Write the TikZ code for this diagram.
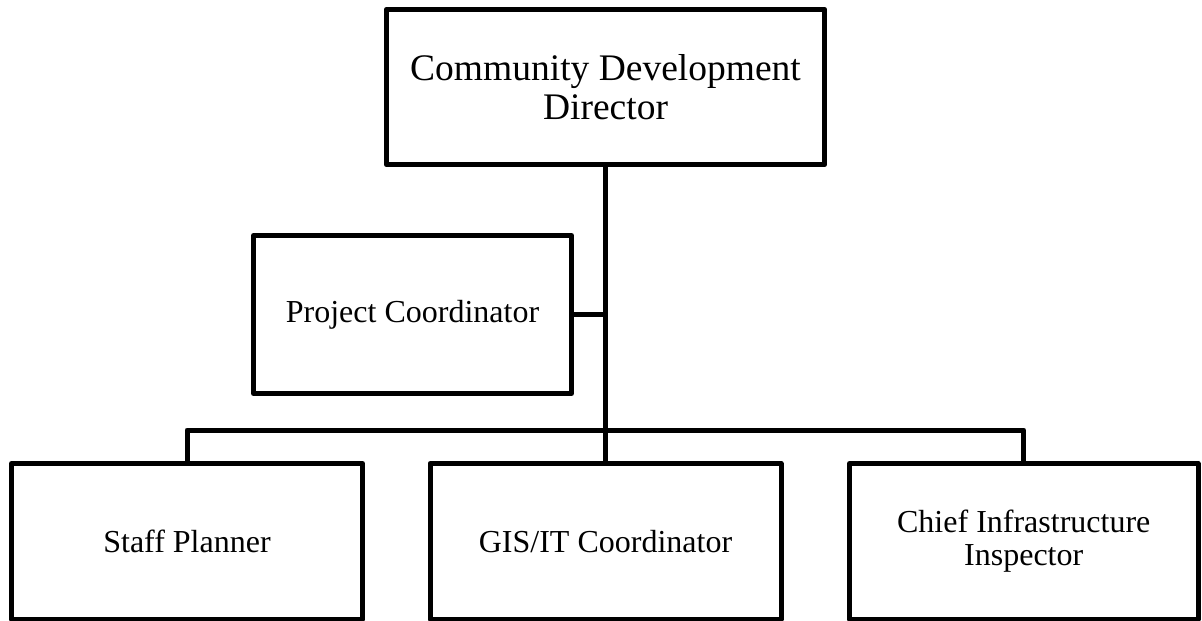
\documentclass[tikz,border=0pt]{standalone}
\usepackage{fontspec}
\setmainfont{Liberation Serif}
\begin{document}
\begin{tikzpicture}[x=1pt,y=-1pt,
  line width=5pt, line join=round,
  orgbox/.style={draw=black, rectangle, inner sep=0pt, align=center,
    font=\fontsize{32}{33}\selectfont},
  headbox/.style={orgbox, font=\fontsize{37.5}{39}\selectfont},
  link/.style={draw=black, line width=5pt}]
  \useasboundingbox (0,0) rectangle (1202,621);

  % director at the top
  \node[headbox, minimum width=438.5pt, minimum height=155pt] (dir) at (605.5,87)
    {Community Development\\Director};

  % staff position to the side of the main line
  \node[orgbox, minimum width=318pt, minimum height=158pt] (proj) at (412.5,314.5)
    {Project Coordinator};

  % bottom row
  \node[orgbox, minimum width=351pt, minimum height=155.5pt] (staff) at (187,541.25)
    {Staff Planner};
  \node[orgbox, minimum width=351pt, minimum height=155.5pt] (gis) at (605.5,541.25)
    {GIS/IT Coordinator};
  \node[orgbox, minimum width=348.5pt, minimum height=155.5pt] (chief) at (1023.75,541.25)
    {Chief Infrastructure\\Inspector};

  % connectors
  \coordinate (bus) at (605.5,430);
  \draw[link] (dir.south) -- (gis.north);
  \draw[link] (proj.east) -- (proj.east -| dir.south);
  \draw[link] (staff.north) |- (bus) -| (chief.north);
\end{tikzpicture}
\end{document}
